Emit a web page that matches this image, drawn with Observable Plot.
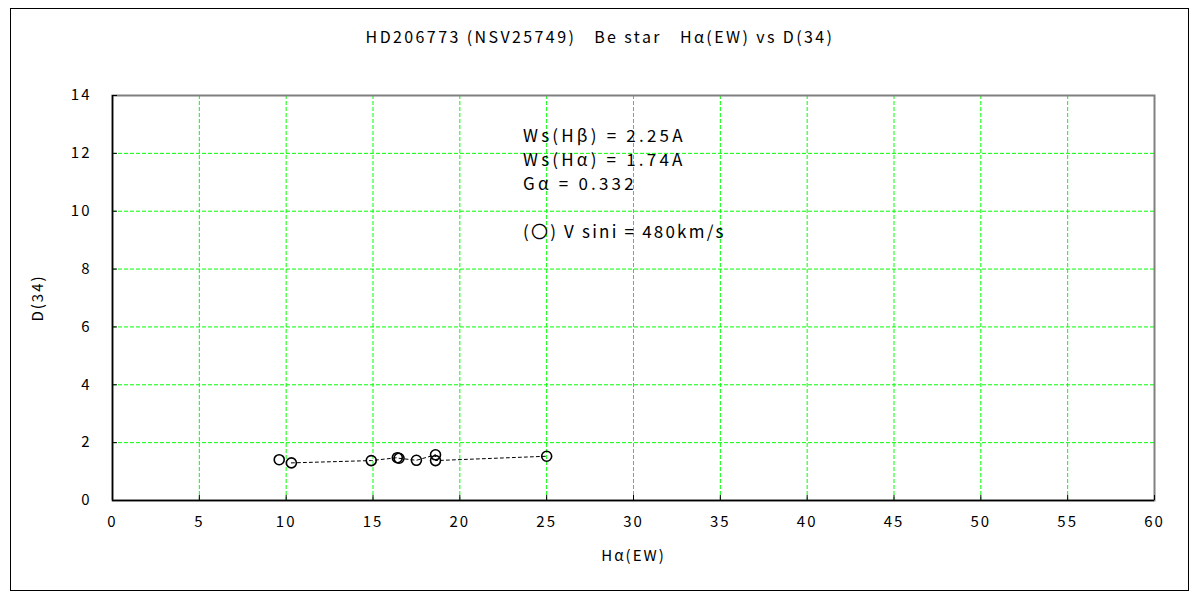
<!DOCTYPE html>
<html>
<head>
<meta charset="utf-8">
<script src="https://cdn.jsdelivr.net/npm/d3@7"></script>
<script src="https://cdn.jsdelivr.net/npm/@observablehq/plot@0.6"></script>
<style>
  html, body { margin: 0; padding: 0; background: #fff; }
  body { width: 1200px; height: 600px; position: relative; overflow: hidden;
         font-family: "Noto Sans CJK JP", "DejaVu Sans", sans-serif; color: #000; }
  #border { position: absolute; left: 10px; top: 8px; width: 1179px; height: 583px; border: 1px solid #000; box-sizing: border-box; pointer-events: none; }
  #title { position: absolute; left: 0; width: 1200px; top: 24px; text-align: center; font-size: 16px; letter-spacing: 2.4px; white-space: pre; }
  #notes { position: absolute; left: 523px; top: 123px; font-size: 17px; line-height: 24px; letter-spacing: 3.2px; white-space: pre; }
  #notes .last { letter-spacing: 2.2px; }
  #chart { position: absolute; left: 0; top: 0; }
  #chart svg text { letter-spacing: 2px; }
</style>
</head>
<body>
<div id="chart"></div>
<div id="border"></div>
<div id="title"></div>
<div id="notes"></div>
<script>
// ---- data ----
const titleText = "HD206773 (NSV25749)   Be star   Hα(EW) vs D(34)";
const xLabel = "Hα(EW)";
const yLabel = "D(34)";
const noteLines = ["Ws(Hβ) = 2.25A", "Ws(Hα) = 1.74A", "Gα = 0.332", "", "(〇) V sini = 480km/s"];
const haEW = [9.6, 10.3, 14.9, 16.4, 16.5, 17.5, 18.6, 18.6, 25.0];
const d34  = [1.41, 1.30, 1.38, 1.48, 1.46, 1.39, 1.58, 1.38, 1.53];
const xTicks = [0, 5, 10, 15, 20, 25, 30, 35, 40, 45, 50, 55, 60];
const yTicks = [0, 2, 4, 6, 8, 10, 12, 14];

const pts = haEW.map((x, i) => ({x, y: d34[i]}));
const linePts = pts.slice(1);

document.getElementById("title").textContent = titleText;
const notes = document.getElementById("notes");
noteLines.forEach((t, i) => {
  const d = document.createElement("div");
  d.textContent = t || "\u00a0";
  if (i === noteLines.length - 1) d.className = "last";
  notes.appendChild(d);
});

const green = "#00ff00";
const chart = Plot.plot({
  width: 1200,
  height: 600,
  marginLeft: 112,
  marginRight: 46,
  marginTop: 95,
  marginBottom: 100,
  style: { fontFamily: "'Noto Sans CJK JP', 'DejaVu Sans', sans-serif", fontSize: "15px", color: "#000", background: "transparent" },
  x: { domain: [0, 60] },
  y: { domain: [0, 14] },
  marks: [
    Plot.gridX(xTicks.slice(1, -1), { stroke: green, strokeOpacity: 1, strokeDasharray: "4,2", strokeWidth: 1 }),
    Plot.gridY(yTicks.slice(1, -1), { stroke: green, strokeOpacity: 1, strokeDasharray: "4,2", strokeWidth: 1 }),
    Plot.frame({ stroke: "#808080", strokeWidth: 2 }),
    Plot.ruleX([0], { stroke: "#000", strokeWidth: 1.5 }),
    Plot.ruleY([0], { stroke: "#000", strokeWidth: 1.5 }),
    Plot.axisX(xTicks, { tickSize: -5, tickPadding: 21, label: xLabel, labelAnchor: "center", labelArrow: "none", labelOffset: 60, fontSize: 15 }),
    Plot.axisY(yTicks, { tickSize: -5, tickPadding: 26, label: yLabel, labelAnchor: "center", labelArrow: "none", labelOffset: 80, fontSize: 15 }),
    Plot.line(linePts, { x: "x", y: "y", stroke: "#000", strokeWidth: 1, strokeDasharray: "3,3" }),
    Plot.dot(pts, { x: "x", y: "y", r: 5, stroke: "#000", strokeWidth: 1.6, fill: "none" })
  ]
});
document.getElementById("chart").appendChild(chart);
</script>
</body>
</html>
